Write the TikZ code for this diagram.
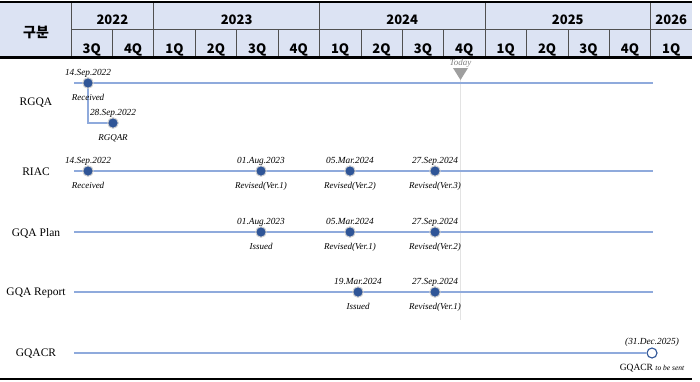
\documentclass[tikz,border=0pt]{standalone}
\usepackage{fontspec}
\setmainfont{Liberation Serif}
\newfontfamily\kr{Noto Sans CJK KR}
\usetikzlibrary{calc,backgrounds}
\definecolor{hdr}{HTML}{DCE3F3}
\definecolor{dotc}{HTML}{2F5597}
\definecolor{tl}{HTML}{8FAADC}
\definecolor{grid}{HTML}{505050}
\tikzset{
  hdrtext/.style={font=\kr\bfseries\fontsize{13}{13}\selectfont, anchor=base, inner sep=0},
  rowlab/.style={font=\fontsize{11.5}{12}\selectfont, inner sep=0},
  toplab/.style={font=\fontsize{9.3}{10}\selectfont\itshape, anchor=base, inner sep=0},
  botlab/.style={font=\fontsize{9}{10}\selectfont\itshape, anchor=base, inner sep=0},
  dotn/.style={circle, fill=dotc, draw=gray!35, line width=1pt, inner sep=0, minimum size=10.5pt},
  opendot/.style={circle, fill=white, draw=dotc, line width=1.1pt, inner sep=0, minimum size=10pt},
  tline/.style={draw=tl, line width=1.4pt},
  qline/.style={draw=grid, line width=0.6pt},
  yline/.style={draw=grid, line width=1pt},
}
\begin{document}
\begin{tikzpicture}[x=1pt, y=-1pt]
\useasboundingbox (0,0) rectangle (700,381);
% header
\fill[hdr] (0,2) rectangle (692,57);
\draw[qline] (71,29) -- (692,29);
\foreach \i in {1,3,4,5,7,8,9,11,12,13} {
  \draw[qline] ({71+41.4*\i},29) -- ({71+41.4*\i},57);
}
\foreach \i in {0,2,6,10,14} {
  \draw[yline] ({71+41.4*\i},2) -- ({71+41.4*\i},57);
}
\draw[line width=2pt] (0,2) -- (692,2);
\draw[line width=2.5pt] (0,57.5) -- (692,57.5);
\node[font=\kr\bfseries\fontsize{14}{14}\selectfont, anchor=base, inner sep=0] (gubun) at (36,37) {구분};
\node[hdrtext] (y2022) at (112.4,24) {2022};
\node[hdrtext] (y2023) at (236.6,24) {2023};
\node[hdrtext] (y2024) at (402.2,24) {2024};
\node[hdrtext] (y2025) at (567.8,24) {2025};
\node[hdrtext] (y2026) at (671.3,24) {2026};
\foreach \q [count=\i from 0] in {3Q,4Q,1Q,2Q,3Q,4Q,1Q,2Q,3Q,4Q,1Q,2Q,3Q,4Q,1Q} {
  \node[hdrtext] (q\i) at ({71+41.4*(\i+0.5)},53) {\q};
}
% today marker
\node[font=\fontsize{9}{9}\selectfont\itshape, text=gray, anchor=base, inner sep=0] (todaytxt) at (460.5,65.5) {Today};
\coordinate (todtop) at (460.5,80);
\coordinate (todbot) at (460.5,320);
\draw[gray!22, line width=1pt] (todtop) -- (todbot);
\fill[gray!75] (453,68) -- (468,68) -- (todtop) -- cycle;
% row labels
\node[rowlab] (lRGQA) at (36,103) {RGQA};
\node[rowlab] (lRIAC) at (36,172) {RIAC};
\node[rowlab] (lPlan) at (36,233) {GQA Plan};
\node[rowlab] (lRep) at (36,293) {GQA Report};
\node[rowlab] (lCR) at (36,354) {GQACR};
% row line end points
\coordinate (s1) at (74,83);  \coordinate (e1) at (653,83);
\coordinate (s2) at (74,171); \coordinate (e2) at (653,171);
\coordinate (s3) at (74,232); \coordinate (e3) at (653,232);
\coordinate (s4) at (74,292); \coordinate (e4) at (653,292);
\coordinate (s5) at (74,353);
\draw[tline] (s1) -- (e1);
\draw[tline] (s2) -- (e2);
\draw[tline] (s3) -- (e3);
\draw[tline] (s4) -- (e4);
% RGQA
\coordinate (brk) at (88,123);
\node[dotn] (a1) at (88,83) {};
\node[dotn] (a2) at (113,123) {};
\begin{scope}[on background layer]
\draw[tline] (a1.center) -- (brk) -- (a2.center);
\end{scope}
\node[toplab] (a1t) at ($(a1)+(0,-7.5)$) {14.Sep.2022};
\node[botlab] (a1b) at ($(a1)+(0,17)$) {Received};
\node[toplab] (a2t) at ($(a2)+(0,-7.5)$) {28.Sep.2022};
\node[botlab] (a2b) at ($(a2)+(0,17)$) {RGQAR};
% RIAC
\node[dotn] (b1) at (88,171) {};
\node[dotn] (b2) at (261,171) {};
\node[dotn] (b3) at (350,171) {};
\node[dotn] (b4) at (435,171) {};
\node[toplab] at ($(b1)+(0,-7.5)$) {14.Sep.2022};
\node[botlab] at ($(b1)+(0,17)$) {Received};
\node[toplab] at ($(b2)+(0,-7.5)$) {01.Aug.2023};
\node[botlab] at ($(b2)+(0,17)$) {Revised(Ver.1)};
\node[toplab] at ($(b3)+(0,-7.5)$) {05.Mar.2024};
\node[botlab] at ($(b3)+(0,17)$) {Revised(Ver.2)};
\node[toplab] at ($(b4)+(0,-7.5)$) {27.Sep.2024};
\node[botlab] at ($(b4)+(0,17)$) {Revised(Ver.3)};
% GQA Plan
\node[dotn] (c1) at (261,232) {};
\node[dotn] (c2) at (350,232) {};
\node[dotn] (c3) at (435,232) {};
\node[toplab] at ($(c1)+(0,-7.5)$) {01.Aug.2023};
\node[botlab] at ($(c1)+(0,17)$) {Issued};
\node[toplab] at ($(c2)+(0,-7.5)$) {05.Mar.2024};
\node[botlab] at ($(c2)+(0,17)$) {Revised(Ver.1)};
\node[toplab] at ($(c3)+(0,-7.5)$) {27.Sep.2024};
\node[botlab] at ($(c3)+(0,17)$) {Revised(Ver.2)};
% GQA Report
\node[dotn] (d1) at (358,292) {};
\node[dotn] (d2) at (435,292) {};
\node[toplab] at ($(d1)+(0,-7.5)$) {19.Mar.2024};
\node[botlab] at ($(d1)+(0,17)$) {Issued};
\node[toplab] at ($(d2)+(0,-7.5)$) {27.Sep.2024};
\node[botlab] at ($(d2)+(0,17)$) {Revised(Ver.1)};
% GQACR
\node[opendot] (f1) at (652,353) {};
\draw[tline] (s5) -- (f1);
\node[toplab] at ($(f1)+(0,-8.5)$) {(31.Dec.2025)};
\node[anchor=base, inner sep=0, font=\fontsize{9.5}{10}\selectfont] at ($(f1)+(0,17)$) {GQACR {\itshape\fontsize{7.5}{8}\selectfont to be sent}};
% bottom rule
\draw[line width=2pt] (0,379) -- (692,379);
\end{tikzpicture}
\end{document}
